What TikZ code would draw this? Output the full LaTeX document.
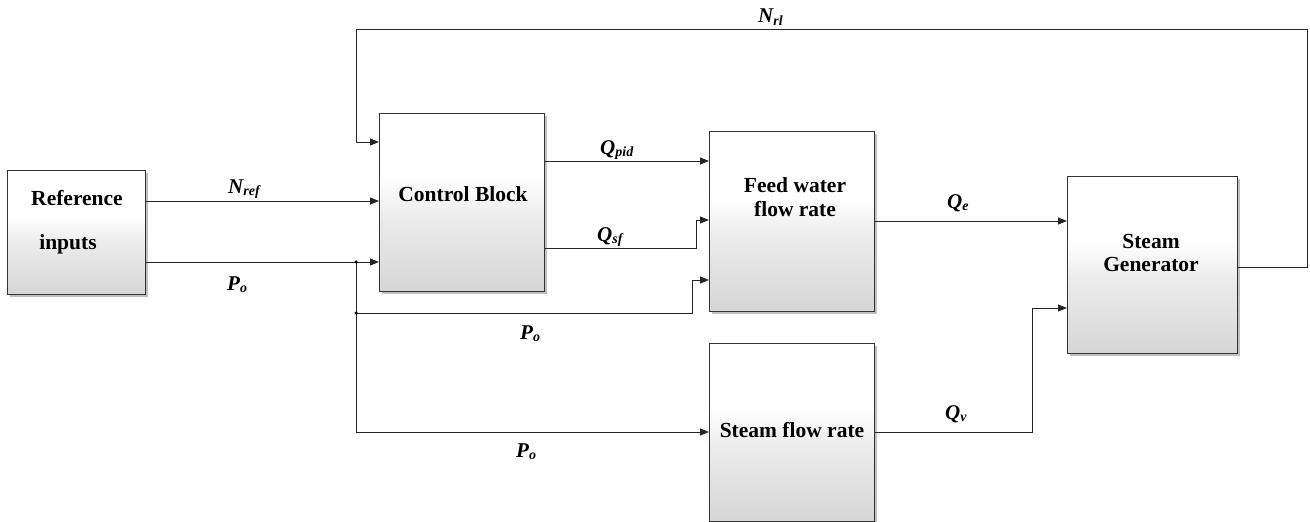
\documentclass[tikz,border=0pt]{standalone}
\usepackage{fontspec}
\setmainfont{Liberation Serif}
\usetikzlibrary{arrows.meta,shadows,calc}
\pgfdeclareverticalshading{boxshade}{100bp}{color(0bp)=(black!16); color(25bp)=(black!16); color(45bp)=(black!8); color(57bp)=(white); color(100bp)=(white)}
\newcommand\siglab[2]{{\bfseries\itshape #1}\raisebox{-2.5pt}{\fontsize{14}{15}\selectfont\bfseries\itshape #2}}
\begin{document}
\begin{tikzpicture}[x=1pt,y=-1pt,
  block/.style={draw=black!80, line width=1.1pt, shading=boxshade,
    drop shadow={shadow xshift=2.5pt, shadow yshift=-2.5pt, fill=black!45, opacity=.55},
    inner sep=0pt, anchor=north west},
  boxtext/.style={font=\fontsize{21.5}{23.5}\selectfont\bfseries, align=center, inner sep=0pt},
  wire/.style={draw=black!85, line width=1pt},
  arr/.style={wire, -{Triangle[length=9pt,width=7pt]}},
  sig/.style={inner sep=0pt, anchor=base west, font=\fontsize{21}{23}\selectfont},
  dot/.style={circle, fill=black, inner sep=0pt, minimum size=3.5pt}]
\useasboundingbox (0,0) rectangle (1310,522);

% blocks
\node[block, minimum width=138pt, minimum height=124pt] (ref) at (7,170) {};
\node[block, minimum width=165pt, minimum height=178pt] (cb) at (379,113) {};
\node[block, minimum width=165pt, minimum height=180pt] (fw) at (709,131) {};
\node[block, minimum width=165pt, minimum height=178pt] (sf) at (709,343) {};
\node[block, minimum width=170pt, minimum height=177pt] (sg) at (1067,176) {};

% block texts
\node[boxtext] (refA) at (77,198) {Reference};
\node[boxtext] (refB) at (68,244) {inputs};
\node[boxtext] (cbt) at (463,194) {Control Block};
\node[boxtext] (fwt) at (795,197) {Feed water\\flow rate};
\node[boxtext] (sft) at (792,430) {Steam flow rate};
\node[boxtext] (sgt) at (1151,253) {Steam\\Generator};

% helper coordinates
\coordinate (yNref) at (0,201);
\coordinate (yPo) at (0,262);
\coordinate (yNrl) at (0,142);
\coordinate (yQpid) at (0,161);
\coordinate (yQsf) at (0,248);
\coordinate (yQsfIn) at (0,220);
\coordinate (yPoIn) at (0,280);
\coordinate (yQe) at (0,221);
\coordinate (yQvIn) at (0,308);
\coordinate (yFb) at (0,267);
\coordinate (j1) at (356,262);
\coordinate (j2) at (356,313);
\coordinate (j3) at (356,432);
\coordinate (qsfK) at (696,248);
\coordinate (poK) at (692,313);
\coordinate (qvK) at (1032,432);
\coordinate (fbD) at (1307,267);
\coordinate (fbR) at (1307,29);
\coordinate (fbL) at (356,29);

% connectors
\draw[arr] (ref.east |- yNref) -- (cb.west |- yNref);
\draw[arr] (ref.east |- yPo) -- (cb.west |- yPo);
\draw[arr] (cb.east |- yQpid) -- (fw.west |- yQpid);
\draw[arr] (cb.east |- yQsf) -- (qsfK) |- (fw.west |- yQsfIn);
\draw[arr] (j2) -- (poK) |- (fw.west |- yPoIn);
\draw[wire] (j1) -- (j3);
\draw[arr] (j3) -- (sf.west |- j3);
\draw[arr] (fw.east |- yQe) -- (sg.west |- yQe);
\draw[arr] (sf.east |- j3) -- (qvK) |- (sg.west |- yQvIn);
\draw[arr] (sg.east |- yFb) -- (fbD) -- (fbR) -- (fbL) |- (cb.west |- yNrl);
\node[dot] (d1) at (j1) {};
\node[dot] (d2) at (j2) {};

% signal labels
\node[sig] (lNref) at (228,193) {\siglab{N}{ref}};
\node[sig] (lPo1) at (227,290) {\siglab{P}{o}};
\node[sig] (lNrl) at (758,23) {\siglab{N}{rl}};
\node[sig] (lQpid) at (600,154) {\siglab{Q}{pid}};
\node[sig] (lQsf) at (597,241) {\siglab{Q}{sf}};
\node[sig] (lPo2) at (520,339) {\siglab{P}{o}};
\node[sig] (lPo3) at (516,457) {\siglab{P}{o}};
\node[sig] (lQe) at (947,208) {\siglab{Q}{e}};
\node[sig] (lQv) at (945,419) {\siglab{Q}{v}};
\end{tikzpicture}
\end{document}
